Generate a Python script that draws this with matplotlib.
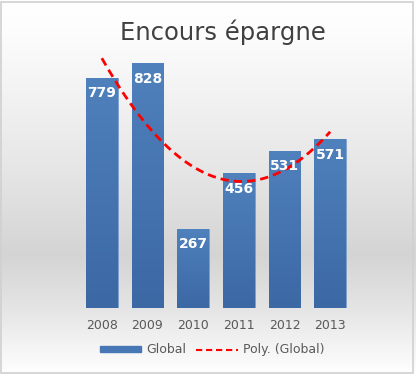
import matplotlib
matplotlib.use('Agg')
import matplotlib.pyplot as plt
import numpy as np
from matplotlib.patches import Rectangle
from matplotlib.lines import Line2D
from matplotlib.colors import LinearSegmentedColormap

years = ['2008', '2009', '2010', '2011', '2012', '2013']
encours = [779, 828, 267, 456, 531, 571]

W, H = 416, 375
fig = plt.figure(figsize=(W / 100, H / 100), dpi=100)

# fond dégradé blanc -> gris -> blanc
bg = fig.add_axes([0, 0, 1, 1], zorder=-10)
grad = LinearSegmentedColormap.from_list('bg', [(0, '#ffffff'), (0.08, '#fdfdfd'), (0.45, '#e6e6e6'),
                                               (0.68, '#d4d4d4'), (0.82, '#e4e4e4'), (1, '#ffffff')])
bg.imshow(np.linspace(0, 1, 256).reshape(-1, 1), aspect='auto', cmap=grad, extent=[0, 1, 0, 1])
bg.set_xlim(0, 1)
bg.set_ylim(0, 1)
bg.axis('off')
bg.add_patch(Rectangle((0.002, 0.006), 0.99, 0.99, fill=False, edgecolor='#d0d0d0', lw=1.2,
                       transform=bg.transAxes))

ax = fig.add_axes([79 / W, 67 / H, 274 / W, 266 / H])
ax.set_facecolor('none')
x = np.arange(len(years))
bars = ax.bar(x, encours, width=0.7, color='#4777b4', edgecolor='#7da0cf', linewidth=0.6,
              label='Global', zorder=2)

# dégradé vertical dans les barres
bar_cm = LinearSegmentedColormap.from_list('bar', ['#3c68a4', '#4f81bd'])
for b in bars:
    im = ax.imshow(np.linspace(0, 1, 100).reshape(-1, 1), cmap=bar_cm, aspect='auto', origin='lower',
                   extent=[b.get_x(), b.get_x() + b.get_width(), 0, b.get_height()], zorder=2.1)
    im.set_clip_path(b)

for xi, v in zip(x, encours):
    ax.annotate(str(v), (xi, v), xytext=(0, -11), textcoords='offset points',
                ha='center', va='center', color='white', fontsize=10, fontweight='bold', zorder=4)

# tendance polynomiale ordre 2
coef = np.polyfit(x + 1, encours, 2)
xs = np.linspace(0, 5, 200)
ax.plot(xs, np.polyval(coef, xs + 1), color='#ff0000', ls=(0, (3, 1.8)), lw=2,
        label='Poly. (Global)', zorder=3)

ax.set_xlim(-0.5, 5.5)
ax.set_ylim(0, 900)
ax.set_yticks([])
ax.set_xticks(x)
ax.set_xticklabels(years, fontsize=9, color='#595959')
ax.tick_params(axis='x', length=0, pad=8)
for s in ax.spines.values():
    s.set_visible(False)

fig.text(0.535, 0.915, 'Encours épargne', ha='center', va='center', fontsize=17.5, color='#404040')

handles = [Rectangle((0, 0), 1, 1, color='#4777b4'),
           Line2D([0], [0], color='#ff0000', ls=(0, (3, 1.8)), lw=1.5)]
fig.legend(handles, ['Global', 'Poly. (Global)'], loc='center', bbox_to_anchor=(0.51, 0.067),
           ncol=2, frameon=False, fontsize=9, labelcolor='#595959', handlelength=3.3,
           handleheight=0.35, columnspacing=0.8, handletextpad=0.4)

fig.savefig('out.png', dpi=100)
